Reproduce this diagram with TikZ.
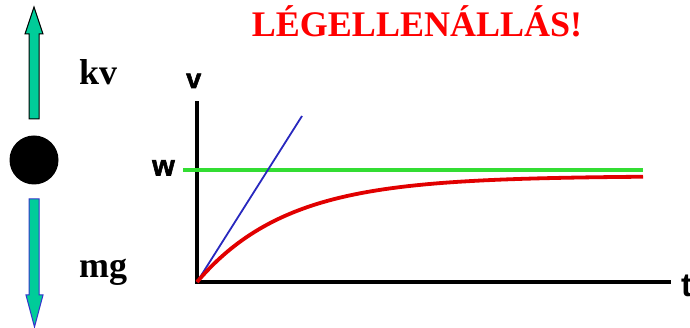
\documentclass[tikz,border=0pt]{standalone}
\usepackage{fontspec}
\setmainfont{Liberation Serif}
\newfontfamily\sansf{Liberation Sans}[BoldFeatures={FakeBold=2}]
\newfontfamily\sanst{Liberation Sans}
\begin{document}
\begin{tikzpicture}[x=1pt,y=-1pt,
  forcelbl/.style={font=\fontsize{36}{40}\selectfont\bfseries, inner sep=0pt, anchor=base west},
  axlbl/.style={inner sep=0pt, anchor=base west},
  axisline/.style={line width=3.5pt, line cap=rect},
  arrowbody/.style={fill=teal1, line width=1pt, line join=miter}]
\definecolor{teal1}{RGB}{0,204,153}
\definecolor{grn}{RGB}{51,221,51}
\definecolor{redc}{RGB}{225,0,0}
\definecolor{bluec}{RGB}{40,40,190}
\definecolor{arrblue}{RGB}{51,51,204}
\useasboundingbox (0,0) rectangle (690,328);
% title
\node[font=\fontsize{36}{40}\selectfont\bfseries, text=red, inner sep=0pt, anchor=base] (title) at (417,37) {LÉGELLENÁLLÁS!};
% up arrow
\draw[arrowbody, draw=black] (29,119) -- (29,34) -- (25,34) -- (34,7) -- (43,34) -- (39,34) -- (39,119) -- cycle;
% ball
\node[circle, fill=black, minimum size=49pt, inner sep=0pt] (ball) at (34,160) {};
% down arrow
\draw[arrowbody, draw=arrblue] (29,199) -- (29,295) -- (26,295) -- (34.5,327) -- (43,295) -- (39,295) -- (39,199) -- cycle;
% force labels
\node[forcelbl] (kv) at (79,85) {kv};
\node[forcelbl] (mg) at (79,278) {mg};
% axes
\coordinate (O) at (197,282);
\coordinate (vtop) at (197,103);
\coordinate (tend) at (669,282);
\draw[axisline] (vtop) -- (O) -- (tend);
% axis labels
\node[axlbl, font=\sansf\bfseries\fontsize{27}{30}\selectfont] (v) at (186,88) {v};
\node[axlbl, font=\sansf\bfseries\fontsize{29}{32}\selectfont] (w) at (152,175.5) {w};
\node[axlbl, font=\sanst\bfseries\fontsize{33}{36}\selectfont] (t) at (681,297) {t};
% green terminal velocity line
\coordinate (g1) at (183,170);
\coordinate (g2) at (643,170);
\draw[grn, line width=3.5pt] (g1) -- (g2);
% blue tangent
\coordinate (b2) at (302,116);
\draw[bluec, line width=1.8pt] (O) -- (b2);
% red curve
\draw[redc, line width=3.8pt, domain=0:446, samples=80, smooth]
  plot (197+\x, {282-106*(1-exp(-\x/90))});
\end{tikzpicture}
\end{document}
